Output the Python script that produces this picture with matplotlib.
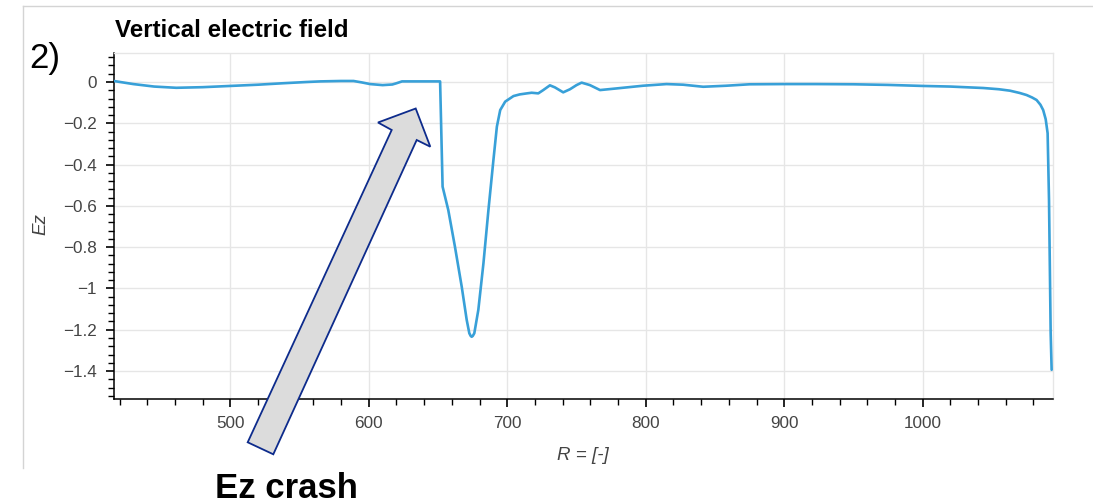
import matplotlib
matplotlib.use("Agg")
import matplotlib.pyplot as plt
from matplotlib.patches import Polygon
from matplotlib.lines import Line2D
from matplotlib.ticker import MultipleLocator, FixedLocator, FixedFormatter

plt.rcParams['font.family'] = ['Liberation Sans', 'DejaVu Sans']

# ---- data ----
R = [415.8, 430, 445, 461, 480, 500, 520, 538, 555, 565, 580, 589, 595, 601,
     610, 617, 620, 624, 640, 651.5, 653.3, 657.4, 662.2, 667.1, 670.7, 672.6,
     673.6, 674.3, 675.1, 676.2, 679.1, 682.8, 686.4, 690.0, 692.5, 694.9,
     698.5, 704.5, 709, 714.2, 717.6, 722.4,
     726, 730.8, 734.4, 740.4, 745.3, 750, 753.7, 759.7, 767, 779, 798, 815,
     827, 841.5, 858, 875, 900, 923, 950, 975, 1000, 1020, 1043.7, 1055, 1063,
     1070, 1075, 1079, 1082.2, 1085, 1087, 1088.8, 1090.2, 1091.2, 1092,
     1092.4, 1093.1]
Ez = [0.005, -0.01, -0.022, -0.028, -0.025, -0.019, -0.013, -0.006, 0.0, 0.003,
      0.005, 0.005, -0.002, -0.01, -0.015, -0.012, -0.006, 0.003, 0.003, 0.003,
      -0.507, -0.62, -0.797, -0.991, -1.152, -1.217, -1.23, -1.234, -1.23,
      -1.217, -1.104, -0.878, -0.62, -0.378, -0.216, -0.136, -0.095, -0.068,
      -0.06, -0.055, -0.052, -0.055,
      -0.039, -0.016, -0.026, -0.05, -0.035, -0.015, -0.003, -0.015, -0.039,
      -0.031, -0.018, -0.01, -0.013, -0.023, -0.018, -0.011, -0.01, -0.01,
      -0.011, -0.014, -0.019, -0.022, -0.029, -0.035, -0.042, -0.053, -0.063,
      -0.075, -0.087, -0.11, -0.136, -0.18, -0.248, -0.571, -1.0, -1.216,
      -1.394]

xticks = [500, 600, 700, 800, 900, 1000]
xtick_labels = ['500', '600', '700', '800', '900', '1000']
yticks = [0, -0.2, -0.4, -0.6, -0.8, -1, -1.2, -1.4]
ytick_labels = ['0', '\u22120.2', '\u22120.4', '\u22120.6', '\u22120.8', '\u22121',
                '\u22121.2', '\u22121.4']

W, H = 1093, 503
fig = plt.figure(figsize=(W / 100, H / 100), dpi=100)

def fx(px):
    return px / W

def fy(py):
    return 1 - py / H

ax_l, ax_r, ax_t, ax_b = 113.7, 1053.3, 52.7, 398.5
ax = fig.add_axes([fx(ax_l), fy(ax_b), fx(ax_r - ax_l), (ax_b - ax_t) / H])

ax.plot(R, Ez, color='#38a0d8', lw=1.9, solid_joinstyle='round',
        solid_capstyle='round', zorder=3)

ax.set_xlim(415.8, 1094.3)
ax.set_ylim(-1.533, 0.142)

ax.xaxis.set_major_locator(FixedLocator(xticks))
ax.xaxis.set_major_formatter(FixedFormatter(xtick_labels))
ax.yaxis.set_major_locator(FixedLocator(yticks))
ax.yaxis.set_major_formatter(FixedFormatter(ytick_labels))
ax.xaxis.set_minor_locator(MultipleLocator(20))
ax.yaxis.set_minor_locator(MultipleLocator(0.04))

ax.grid(True, which='major', color='#e6e6e6', lw=1.0, zorder=0)
ax.set_axisbelow(True)

for s in ['top', 'right']:
    ax.spines[s].set_color('#e6e6e6')
    ax.spines[s].set_linewidth(1.0)
for s in ['left', 'bottom']:
    ax.spines[s].set_color('black')
    ax.spines[s].set_linewidth(1.1)

ax.tick_params(which='major', direction='out', length=6, width=1.2,
               color='black', labelsize=12.3, labelcolor='#444444', pad=6)
ax.tick_params(which='minor', direction='out', length=4.5, width=1.0, color='black')
ax.tick_params(axis='x', which='major', pad=6.5)

# axis labels
fig.text(fx(583), fy(460), 'R = [-]', ha='center', va='baseline',
         fontsize=13.5, style='italic', color='#444444')
fig.text(fx(41), fy(224), 'Ez', ha='center', va='center', rotation=90,
         fontsize=13.5, style='italic', color='#444444')

# title and annotations
fig.text(fx(115), fy(37.3), 'Vertical electric field', ha='left', va='baseline',
         fontsize=17.4, fontweight='bold', color='black')
fig.text(fx(29), fy(68.3), '2)', ha='left', va='baseline',
         fontsize=25, color='black')
fig.text(fx(215), fy(498), 'Ez crash', ha='left', va='baseline',
         fontsize=25, fontweight='bold', color='black')

# outer panel border (left and top)
fig.add_artist(Line2D([fx(23), fx(23)], [fy(468), fy(6)], transform=fig.transFigure,
                      color='#d4d4d4', lw=1.0))
fig.add_artist(Line2D([fx(23), fx(1093)], [fy(6), fy(6)], transform=fig.transFigure,
                      color='#d4d4d4', lw=1.0))

# arrow annotation
arrow_px = [(247.7, 442.3), (273.3, 454.3), (416.7, 140.0), (430.3, 146.7),
            (415.7, 108.5), (378.0, 122.5), (391.7, 130.0)]
arrow = Polygon([(fx(x), fy(y)) for x, y in arrow_px], closed=True,
                transform=fig.transFigure, facecolor='#dcdcdc',
                edgecolor='#0d2b8c', lw=1.3, zorder=10)
fig.add_artist(arrow)

fig.savefig('out.png', dpi=100)
